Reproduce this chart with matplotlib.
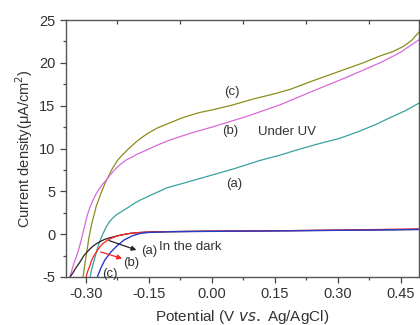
import matplotlib
matplotlib.use("Agg")
import matplotlib.pyplot as plt
from matplotlib.ticker import MultipleLocator, FixedLocator

plt.rcParams['font.family'] = ['Liberation Sans', 'DejaVu Sans']
plt.rcParams['axes.unicode_minus'] = False

# ---- data ----
uv_c_x = [-0.307, -0.302, -0.297, -0.293, -0.289, -0.285, -0.281, -0.276, -0.27, -0.265, -0.26, -0.255,
          -0.251, -0.245, -0.24, -0.233, -0.225, -0.218, -0.21, -0.2, -0.19, -0.18, -0.168, -0.155,
          -0.13, -0.10, -0.07, -0.03, 0.0, 0.043, 0.10, 0.15, 0.186, 0.24, 0.28, 0.32, 0.36,
          0.40, 0.43, 0.455, 0.475, 0.493]
uv_c_y = [-5, -3.3, -1.7, -0.4, 0.6, 1.5, 2.2, 3.2, 4.0, 4.7, 5.3, 5.9,
          6.3, 6.9, 7.4, 8.0, 8.6, 9.0, 9.4, 9.9, 10.35, 10.8, 11.25, 11.7,
          12.4, 13.0, 13.6, 14.2, 14.5, 15.0, 15.8, 16.4, 16.9, 17.9, 18.6, 19.3, 20.0,
          20.8, 21.3, 21.9, 22.6, 23.6]

uv_b_x = [-0.338, -0.333, -0.328, -0.322, -0.317, -0.312, -0.307, -0.302, -0.297, -0.29, -0.283, -0.276,
          -0.27, -0.261, -0.252, -0.241, -0.23, -0.217, -0.203, -0.19, -0.18, -0.168, -0.157,
          -0.13, -0.10, -0.05, 0.0, 0.08, 0.162, 0.24, 0.32, 0.40, 0.448, 0.493]
uv_b_y = [-5, -4.1, -3.3, -2.5, -1.7, -0.8, 0.2, 1.2, 2.2, 3.2, 4.0, 4.7,
          5.2, 5.8, 6.3, 7.0, 7.6, 8.2, 8.7, 9.0, 9.3, 9.55, 9.8,
          10.4, 11.0, 11.8, 12.5, 13.7, 15.1, 16.7, 18.3, 20.0, 21.2, 22.7]

uv_a_x = [-0.29, -0.287, -0.283, -0.278, -0.273, -0.267, -0.26, -0.253, -0.245, -0.237, -0.228, -0.218,
          -0.21, -0.197, -0.185, -0.17, -0.157, -0.13, -0.108, -0.05,
          0.0, 0.05, 0.114, 0.16, 0.20, 0.25, 0.305, 0.35, 0.39, 0.424, 0.46, 0.493]
uv_a_y = [-5, -4.2, -3.5, -2.6, -1.7, -0.8, 0.0, 0.75, 1.4, 1.85, 2.25, 2.55,
          2.8, 3.2, 3.6, 4.0, 4.3, 4.9, 5.4, 6.2,
          6.9, 7.6, 8.6, 9.2, 9.8, 10.5, 11.2, 12.0, 12.8, 13.6, 14.4, 15.3]

dark_a_x = [-0.338, -0.331, -0.325, -0.315, -0.305, -0.297, -0.29, -0.282, -0.273, -0.264, -0.255, -0.244,
            -0.233, -0.222, -0.21, -0.194, -0.17, -0.15, -0.1, 0.0, 0.1, 0.2, 0.3, 0.4, 0.493]
dark_a_y = [-5, -4.5, -4.0, -3.3, -2.5, -2.05, -1.7, -1.35, -1.05, -0.8, -0.6, -0.43,
            -0.3, -0.15, -0.05, 0.1, 0.2, 0.25, 0.3, 0.35, 0.38, 0.42, 0.45, 0.5, 0.55]

dark_b_x = [-0.300, -0.295, -0.29, -0.287, -0.283, -0.278, -0.273, -0.267, -0.26, -0.25, -0.241, -0.23,
            -0.22, -0.207, -0.194, -0.17, -0.15, -0.1, 0.0, 0.1, 0.2, 0.3, 0.4, 0.493]
dark_b_y = [-5, -4.2, -3.6, -3.1, -2.7, -2.3, -1.9, -1.5, -1.1, -0.75, -0.5, -0.3,
            -0.15, 0.0, 0.1, 0.2, 0.25, 0.3, 0.35, 0.38, 0.42, 0.48, 0.55, 0.62]

dark_c_x = [-0.273, -0.269, -0.265, -0.26, -0.255, -0.248, -0.241, -0.233, -0.225, -0.217, -0.21, -0.2,
            -0.19, -0.18, -0.17, -0.15, -0.12, -0.1, 0.0, 0.1, 0.2, 0.3, 0.4, 0.493]
dark_c_y = [-5, -4.5, -4.0, -3.5, -3.0, -2.55, -2.1, -1.7, -1.3, -1.0, -0.7, -0.45,
            -0.2, -0.05, 0.1, 0.2, 0.25, 0.28, 0.33, 0.36, 0.4, 0.45, 0.5, 0.55]

x_ticks = [-0.30, -0.15, 0.00, 0.15, 0.30, 0.45]
x_tick_labels = ['-0.30', '-0.15', '0.00', '0.15', '0.30', '0.45']
y_ticks = [-5, 0, 5, 10, 15, 20, 25]

# ---- figure ----
fig = plt.figure(figsize=(4.2, 3.25), dpi=100)
ax = fig.add_axes([66 / 420, 1 - 277 / 325, (419 - 66) / 420, (277 - 20) / 325])

ax.plot(uv_c_x, uv_c_y, color='#8c8c1c', lw=0.9)
ax.plot(uv_b_x, uv_b_y, color='#d86ad8', lw=0.9)
ax.plot(uv_a_x, uv_a_y, color='#3aa0a0', lw=0.9)
ax.plot(dark_a_x, dark_a_y, color='#222222', lw=0.9)
ax.plot(dark_b_x, dark_b_y, color='#ff2020', lw=0.9)
ax.plot(dark_c_x, dark_c_y, color='#2a3cc8', lw=1.0)

ax.set_xlim(-0.3476, 0.4929)
ax.set_ylim(-5, 25)

tc = '#333333'
ax.set_xticks(x_ticks)
ax.set_xticklabels(x_tick_labels)
ax.set_yticks(y_ticks)
ax.xaxis.set_minor_locator(MultipleLocator(0.075))
ax.yaxis.set_minor_locator(MultipleLocator(2.5))
ax.tick_params(axis='both', which='major', direction='out', length=4, width=0.9,
               colors='#444444', labelcolor=tc, labelsize=10.5)
ax.tick_params(axis='both', which='minor', direction='out', length=2.5, width=0.9, colors='#444444')
ax.tick_params(axis='x', which='major', pad=3)

for s in ax.spines.values():
    s.set_color('#555555')
    s.set_linewidth(1.0)

# top ticks pointing inward
sec = ax.secondary_xaxis('top')
sec.set_xticks([-0.225, -0.075, 0.075, 0.225, 0.375])
sec.tick_params(direction='in', length=3, width=0.9, colors='#444444', labeltop=False)
sec.xaxis.set_minor_locator(FixedLocator([]))
sec.spines['top'].set_visible(False)

ax.set_ylabel('Current density(\u03bcA/cm$^2$)', fontsize=10.5, color=tc, labelpad=3)
ax.set_xlabel('Potential (V $\\it{vs.}$ Ag/AgCl)', fontsize=11, color=tc, labelpad=5)

fs = 9.5
ax.text(0.047, 16.6, '(c)', fontsize=fs, color=tc, ha='center', va='center')
ax.text(0.043, 12.0, '(b)', fontsize=fs, color=tc, ha='center', va='center')
ax.text(0.11, 11.9, 'Under UV', fontsize=fs, color=tc, ha='left', va='center')
ax.text(0.052, 5.85, '(a)', fontsize=fs, color=tc, ha='center', va='center')
ax.text(-0.126, -1.5, 'In the dark', fontsize=fs, color=tc, ha='left', va='center')
ax.text(-0.150, -2.0, '(a)', fontsize=fs, color=tc, ha='center', va='center')
ax.text(-0.192, -3.33, '(b)', fontsize=fs, color=tc, ha='center', va='center')
ax.text(-0.243, -4.6, '(c)', fontsize=fs, color=tc, ha='center', va='center')

ax.annotate('', xy=(-0.180, -1.85), xytext=(-0.245, -0.75),
            arrowprops=dict(arrowstyle='-|>', color='#222222', lw=0.9, mutation_scale=7,
                            shrinkA=0, shrinkB=0))
ax.annotate('', xy=(-0.214, -2.85), xytext=(-0.265, -2.07),
            arrowprops=dict(arrowstyle='-|>', color='#ff2020', lw=0.9, mutation_scale=7,
                            shrinkA=0, shrinkB=0))

fig.savefig('out.png', dpi=100)
